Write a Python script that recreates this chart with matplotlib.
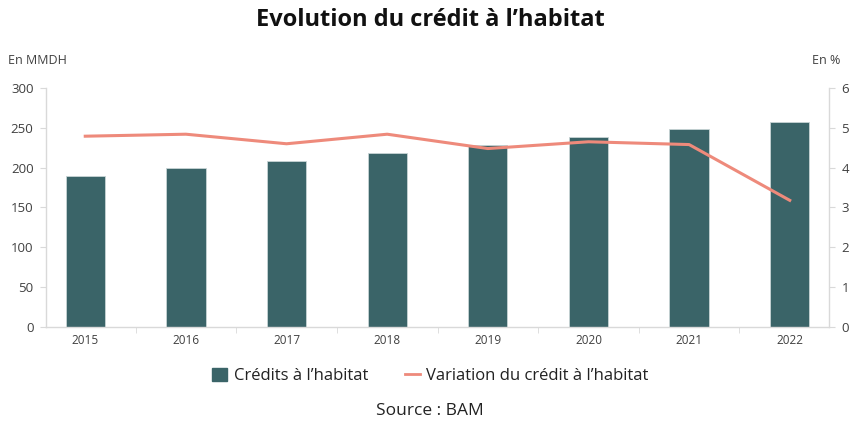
import matplotlib
matplotlib.use("Agg")
import matplotlib.pyplot as plt
import numpy as np
from matplotlib.patches import Patch
from matplotlib.lines import Line2D

years = ["2015", "2016", "2017", "2018", "2019", "2020", "2021", "2022"]
credits = [190, 199, 208, 218, 228, 238, 249, 257]
variation = [4.79, 4.84, 4.60, 4.84, 4.48, 4.65, 4.58, 3.18]

bar_color = "#3a6468"
line_color = "#ee8a7b"
spine_color = "#d9d9d9"
text_color = "#404040"

plt.rcParams['font.family'] = ['Open Sans', 'DejaVu Sans']

fig = plt.figure(figsize=(8.52, 4.23), dpi=100)
ax = fig.add_axes([46/852, 96/423, (829-46)/852, (327-88)/423])
ax2 = ax.twinx()

x = np.arange(len(years))
ax.bar(x, credits, width=0.39, color=bar_color, edgecolor="#c8d4d5", linewidth=0.6, zorder=2)
ax2.plot(x, variation, color=line_color, linewidth=2.2, zorder=3)

ax.set_xlim(-0.39, 7.39)
ax.set_ylim(0, 300)
ax2.set_ylim(0, 6)
ax.set_yticks(range(0, 301, 50))
ax2.set_yticks(range(0, 7))

ax.set_xticks(x)
ax.set_xticklabels(years)
ax.set_xticks(np.arange(-0.5, 7.6, 1.0)[1:-1], minor=True)
ax.tick_params(axis='x', which='major', length=0, pad=5, labelsize=8.5, labelcolor=text_color)
ax.tick_params(axis='x', which='minor', length=4, color=spine_color, direction='out')
ax.tick_params(axis='y', length=4, color=spine_color, labelsize=9.5, labelcolor=text_color, pad=5)
ax2.tick_params(axis='y', length=4, color=spine_color, labelsize=9.5, labelcolor=text_color, pad=5)

for a in (ax, ax2):
    a.spines['top'].set_visible(False)
    for s in ('left', 'right', 'bottom'):
        a.spines[s].set_color(spine_color)
        a.spines[s].set_linewidth(1.0)
ax.spines['right'].set_visible(False)
ax2.spines['left'].set_visible(False)
ax2.spines['bottom'].set_visible(False)

fig.text(0.505, 0.952, "Evolution du crédit à l’habitat", ha='center', va='center',
         fontsize=17, fontweight='bold', color='#111111')
fig.text(8/852, 1 - 60/423, "En MMDH", ha='left', va='center', fontsize=9, color=text_color)
fig.text(840/852, 1 - 60/423, "En %", ha='right', va='center', fontsize=9, color=text_color)

handles = [Patch(facecolor=bar_color, edgecolor=bar_color),
           Line2D([0], [0], color=line_color, linewidth=2)]
fig.legend(handles, ["Crédits à l’habitat", "Variation du crédit à l’habitat"],
           loc='center', bbox_to_anchor=(0.505, 1 - 376/423), ncol=2, frameon=False,
           fontsize=12, handlelength=0.9, handleheight=0.9, columnspacing=2.2,
           handletextpad=0.4, labelcolor='#222222')

fig.text(0.505, 1 - 411/423, "Source : BAM", ha='center', va='center', fontsize=12.5, color='#222222')

fig.savefig("out.png", dpi=100)
